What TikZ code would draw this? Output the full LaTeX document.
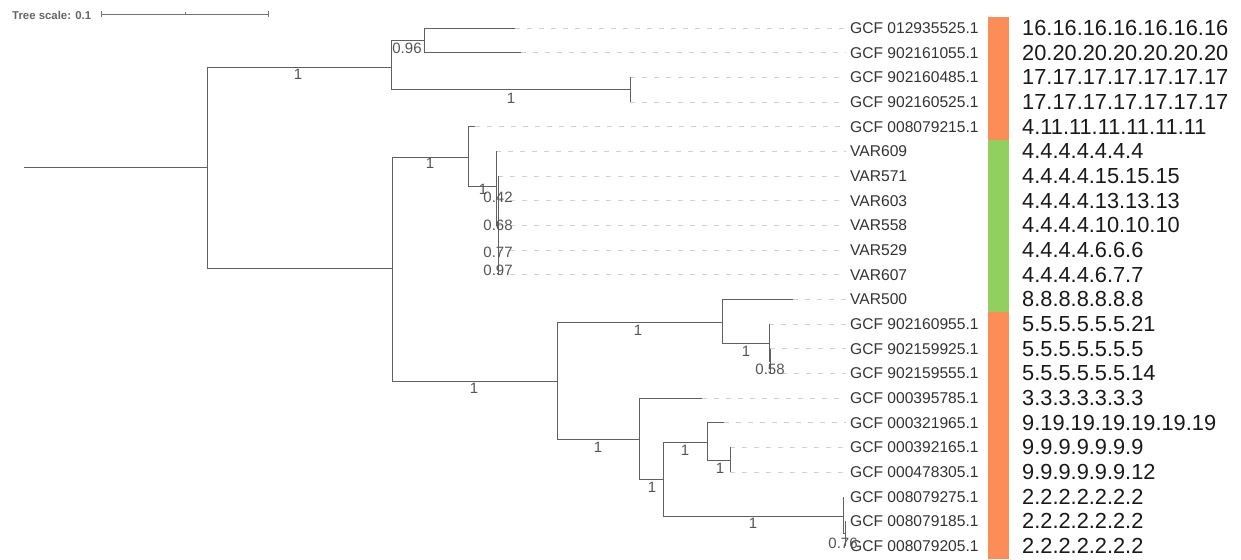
\documentclass[tikz,border=0pt]{standalone}
\usepackage{fontspec}
\setmainfont{Liberation Sans}
\definecolor{treegray}{HTML}{606060}
\definecolor{leadgray}{HTML}{D0D0D0}
\definecolor{labgray}{HTML}{333333}
\definecolor{bsgray}{HTML}{555555}
\definecolor{barorange}{HTML}{FC8D59}
\definecolor{bargreen}{HTML}{91CF60}
\begin{document}
\begin{tikzpicture}[x=1pt,y=-1pt,
  br/.style={draw=treegray, line width=0.85pt},
  lead/.style={draw=leadgray, dash pattern=on 5pt off 7pt, line width=0.8pt},
  leaflab/.style={anchor=west, font=\fontsize{15.6}{16}\selectfont, text=labgray, inner sep=0pt},
  bs/.style={font=\fontsize{15}{15}\selectfont, text=bsgray, inner sep=0pt},
  codelab/.style={anchor=west, font=\fontsize{21.8}{22}\selectfont, text=black!90, inner sep=0pt},
  scalelab/.style={anchor=west, font=\bfseries\fontsize{11.4}{12}\selectfont, text=black!60, inner sep=0pt}]
\useasboundingbox (0,0) rectangle (1241,559);

% tree scale
\node[scalelab] (ts) at (12,15) {Tree scale: 0.1};
\coordinate (s0) at (101,14);
\coordinate (s1) at (268,14);
\draw[draw=black!55, line width=0.9pt] (s0) -- (s1);
\draw[draw=black!55, line width=0.9pt] ([yshift=-3pt]s0) -- ([yshift=3pt]s0);
\draw[draw=black!55, line width=0.9pt] ([yshift=-3pt]s1) -- ([yshift=3pt]s1);
\draw[draw=black!55, line width=0.9pt] (185,12.5) -- (185,15.5);

% colour strip
\fill[barorange] (988,17) rectangle (1009,140);
\fill[bargreen] (988,140) rectangle (1009,312);
\fill[barorange] (988,312) rectangle (1009,559);

% leaf tips
\foreach \i/\x in {0/515,1/521,2/630,3/630,4/475,5/496,6/498,7/498,8/498,9/498,10/498,11/793,12/769,13/770,14/770,15/702,16/724,17/730,18/730,19/843,20/845,21/845}
  \coordinate (t\i) at (\x,{28+24.667*\i});

% leaf labels and leaders
\foreach \i/\t in {0/GCF 012935525.1,1/GCF 902161055.1,2/GCF 902160485.1,3/GCF 902160525.1,4/GCF 008079215.1,5/VAR609,6/VAR571,7/VAR603,8/VAR558,9/VAR529,10/VAR607,11/VAR500,12/GCF 902160955.1,13/GCF 902159925.1,14/GCF 902159555.1,15/GCF 000395785.1,16/GCF 000321965.1,17/GCF 000392165.1,18/GCF 000478305.1,19/GCF 008079275.1,20/GCF 008079185.1,21/GCF 008079205.1}
{
  \node[leaflab] (l\i) at (850,{28+24.667*\i}) {\t};
}
\foreach \i in {0,...,18}
  \draw[lead] (t\i) -- ([xshift=-4pt]l\i.west);

% right-hand codes
\foreach \i/\t in {0/16.16.16.16.16.16.16,1/20.20.20.20.20.20.20,2/17.17.17.17.17.17.17,3/17.17.17.17.17.17.17,4/4.11.11.11.11.11.11,5/4.4.4.4.4.4.4,6/4.4.4.4.15.15.15,7/4.4.4.4.13.13.13,8/4.4.4.4.10.10.10,9/4.4.4.4.6.6.6,10/4.4.4.4.6.7.7,11/8.8.8.8.8.8.8,12/5.5.5.5.5.5.21,13/5.5.5.5.5.5.5,14/5.5.5.5.5.5.14,15/3.3.3.3.3.3.3,16/9.19.19.19.19.19.19,17/9.9.9.9.9.9.9,18/9.9.9.9.9.9.12,19/2.2.2.2.2.2.2,20/2.2.2.2.2.2.2,21/2.2.2.2.2.2.2}
  \node[codelab] (r\i) at (1022,{28+24.667*\i}) {\t};

% internal nodes
\coordinate (R) at (24,167);
\coordinate (A) at (207,167);
\coordinate (B) at (391,67);
\coordinate (C) at (424,40.3);
\coordinate (D) at (630,89.7);
\coordinate (E) at (392,268);
\coordinate (F) at (468,157);
\coordinate (G) at (496,186);
\coordinate (G2) at (498,225);
\coordinate (I) at (557,381);
\coordinate (H) at (722,322);
\coordinate (H2) at (769,343);
\coordinate (H3) at (770,361);
\coordinate (J) at (639,439);
\coordinate (K) at (663,479);
\coordinate (L) at (707,442);
\coordinate (M) at (730,460);
\coordinate (N) at (843,516);
\coordinate (O) at (845,533.6);

% branches
\draw[br] (R) -- (A);
\draw[br] (A) |- (B);  \draw[br] (A) |- (E);
\draw[br] (B) |- (C);  \draw[br] (B) |- (D);
\draw[br] (C) |- (t0); \draw[br] (C) |- (t1);
\draw[br] (D) |- (t2); \draw[br] (D) |- (t3);
\draw[br] (E) |- (F);  \draw[br] (E) |- (I);
\draw[br] (F) |- (t4); \draw[br] (F) |- (G);
\draw[br] (G) |- (t5); \draw[br] (G) |- (G2);
\foreach \i in {6,...,10} \draw[br] (G2) |- (t\i);
\draw[br] (I) |- (H);  \draw[br] (I) |- (J);
\draw[br] (H) |- (t11); \draw[br] (H) |- (H2);
\draw[br] (H2) |- (t12); \draw[br] (H2) |- (H3);
\draw[br] (H3) |- (t13); \draw[br] (H3) |- (t14);
\draw[br] (J) |- (t15); \draw[br] (J) |- (K);
\draw[br] (K) |- (L);  \draw[br] (K) |- (N);
\draw[br] (L) |- (t16); \draw[br] (L) |- (M);
\draw[br] (M) |- (t17); \draw[br] (M) |- (t18);
\draw[br] (N) |- (t19); \draw[br] (N) |- (O);
\draw[br] (O) |- (t20); \draw[br] (O) |- (t21);

% support values
\node[bs] (b1) at (298,74) {1};
\node[bs] (b2) at (407,48) {0.96};
\node[bs] (b3) at (511,98) {1};
\node[bs] (b4) at (430,163) {1};
\node[bs] (b5) at (483,189) {1};
\node[bs] (b6) at (498,197) {0.42};
\node[bs] (b7) at (498,225) {0.68};
\node[bs] (b8) at (498,252) {0.77};
\node[bs] (b9) at (498,270) {0.97};
\node[bs] (b10) at (638,330) {1};
\node[bs] (b11) at (746,351) {1};
\node[bs] (b12) at (770,369) {0.58};
\node[bs] (b13) at (474,388) {1};
\node[bs] (b14) at (598,447) {1};
\node[bs] (b15) at (685,450) {1};
\node[bs] (b16) at (720,468) {1};
\node[bs] (b17) at (652,487) {1};
\node[bs] (b18) at (753,523) {1};
\node[bs] (b19) at (843,543) {0.76};
\end{tikzpicture}
\end{document}
